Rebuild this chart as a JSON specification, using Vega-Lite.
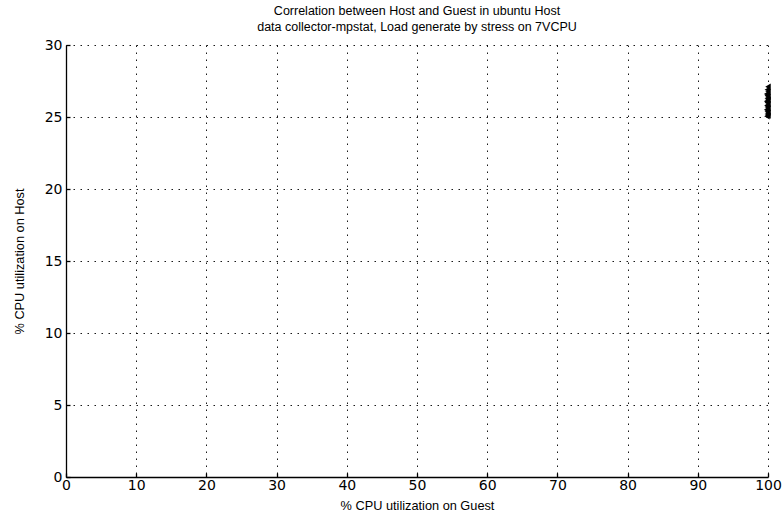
{
  "$schema": "https://vega.github.io/schema/vega-lite/v6.json",
  "width": 702,
  "height": 432,
  "autosize": "none",
  "padding": {"left": 66, "top": 45, "right": 15, "bottom": 39},
  "background": "white",
  "title": {
    "text": ["Correlation between Host and Guest in ubuntu Host", "data collector-mpstat, Load generate by stress on 7VCPU"],
    "font": "Liberation Sans",
    "fontSize": 12.5,
    "fontWeight": "normal",
    "color": "black",
    "lineHeight": 16,
    "offset": 5,
    "anchor": "middle"
  },
  "config": {
    "view": {"stroke": null},
    "axis": {
      "domainColor": "black",
      "domainWidth": 1.3,
      "tickColor": "black",
      "tickWidth": 1.3,
      "tickSize": -4,
      "gridColor": "black",
      "gridDash": [1.5, 5.5],
      "gridOpacity": 0.9,
      "labelFont": "DejaVu Sans",
      "labelFontSize": 14,
      "labelColor": "black",
      "titleFont": "Liberation Sans",
      "titleFontSize": 12.75,
      "titleFontWeight": "normal",
      "titleColor": "black"
    }
  },
  "data": {
    "values": [
      {"guest": 100.0, "host": 27.1},
      {"guest": 99.9, "host": 26.9},
      {"guest": 100.0, "host": 26.75},
      {"guest": 99.8, "host": 26.6},
      {"guest": 99.9, "host": 26.5},
      {"guest": 100.0, "host": 26.4},
      {"guest": 99.9, "host": 26.3},
      {"guest": 100.0, "host": 26.2},
      {"guest": 99.8, "host": 26.1},
      {"guest": 99.9, "host": 26.0},
      {"guest": 100.0, "host": 25.9},
      {"guest": 99.85, "host": 25.8},
      {"guest": 99.9, "host": 25.7},
      {"guest": 100.0, "host": 25.6},
      {"guest": 99.8, "host": 25.5},
      {"guest": 99.9, "host": 25.4},
      {"guest": 100.0, "host": 25.3},
      {"guest": 99.9, "host": 25.2},
      {"guest": 100.0, "host": 25.1},
      {"guest": 99.85, "host": 25.05}
    ]
  },
  "mark": {"type": "point", "shape": "triangle-left", "filled": true, "color": "black", "size": 40, "opacity": 1},
  "encoding": {
    "x": {
      "field": "guest",
      "type": "quantitative",
      "scale": {"domain": [0, 100], "nice": false, "zero": false},
      "axis": {"values": [0, 10, 20, 30, 40, 50, 60, 70, 80, 90, 100], "title": "% CPU utilization on Guest", "labelPadding": 5, "titlePadding": 7, "labelFlush": false}
    },
    "y": {
      "field": "host",
      "type": "quantitative",
      "scale": {"domain": [0, 30], "nice": false, "zero": false},
      "axis": {"values": [0, 5, 10, 15, 20, 25, 30], "title": "% CPU utilization on Host", "labelPadding": 8, "titlePadding": 18, "labelFlush": false}
    }
  }
}
